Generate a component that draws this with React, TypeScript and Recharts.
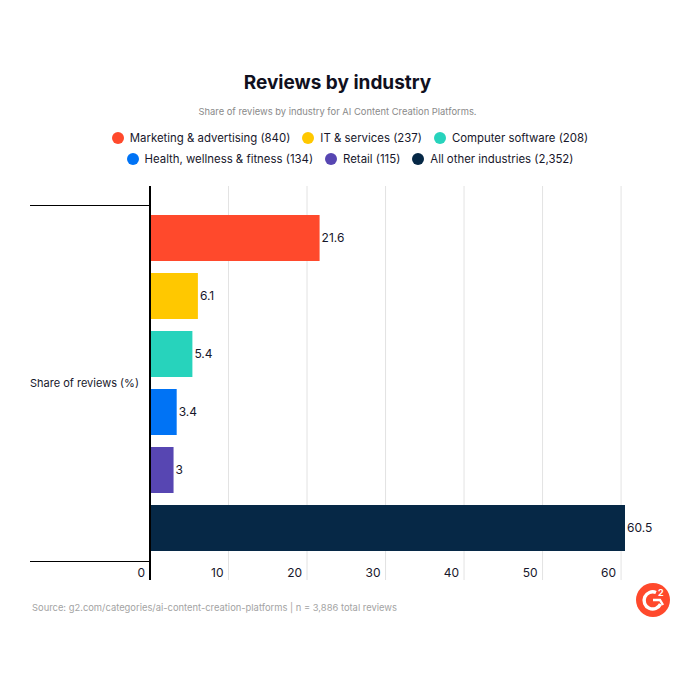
import React from "react";
import { BarChart, Bar, Cell, CartesianGrid, LabelList, Legend, XAxis, YAxis } from "recharts";

const industries = ["Marketing & advertising", "IT & services", "Computer software", "Health, wellness & fitness", "Retail", "All other industries"];
const shares = [21.6, 6.1, 5.4, 3.4, 3, 60.5];
const reviewCounts = ["840", "237", "208", "134", "115", "2,352"];
const colors = ["#ff492c", "#ffc800", "#27d3bc", "#0073f5", "#5746b2", "#062846"];
const xTicks = [0, 10, 20, 30, 40, 50, 60];
const groupLabel = "Share of reviews (%)";
const legendRows = [[0, 1, 2], [3, 4, 5]];

const data = industries.map((industry, i) => ({ industry, share: shares[i] }));
const sans = "Inter, 'Noto Sans', sans-serif";

const LegendContent = () => (
  <div style={{ fontFamily: sans, fontSize: 11.4, color: "#17172b" }}>
    {legendRows.map((row, r) => (
      <div key={r} style={{ display: "flex", justifyContent: "center", height: 21, alignItems: "center", gap: 12 }}>
        {row.map((i) => (
          <span key={i} style={{ display: "flex", alignItems: "center", gap: 6, whiteSpace: "nowrap" }}>
            <span style={{ width: 12, height: 12, borderRadius: 6, background: colors[i], display: "inline-block" }} />
            {industries[i]} ({reviewCounts[i]})
          </span>
        ))}
      </div>
    ))}
  </div>
);

const XTick = (props: any) => (
  <text x={props.x - 5} y={props.y - 3} textAnchor="end" fontFamily={sans} fontSize={12} fill="#17172b">
    {props.payload.value}
  </text>
);

const GroupLabel = (props: any) => {
  const { x, y, width, height } = props.viewBox;
  return (
    <g>
      <line x1={x} x2={x + width} y1={y + 19.5} y2={y + 19.5} stroke="#000" strokeWidth={1} />
      <line x1={x} x2={x + width} y1={y + height - 18.5} y2={y + height - 18.5} stroke="#000" strokeWidth={1} />
      <text x={x} y={y + height / 2} dy={4} fontFamily={sans} fontSize={11} fill="#17172b">{groupLabel}</text>
    </g>
  );
};

export default function App() {
  return (
    <div style={{ position: "absolute", left: 0, top: 0, width: 700, height: 700, background: "#fff", overflow: "hidden" }}>
      <div style={{ position: "absolute", top: 70, left: 0, width: 675, textAlign: "center", fontFamily: sans, fontWeight: 700, fontSize: 19, lineHeight: "26px", color: "#10101e" }}>
        Reviews by industry
      </div>
      <div style={{ position: "absolute", top: 105, left: 0, width: 675, textAlign: "center", fontFamily: sans, fontSize: 9.4, lineHeight: "14px", color: "#8a8a8a" }}>
        Share of reviews by industry for AI Content Creation Platforms.
      </div>
      <BarChart
        width={700}
        height={700}
        layout="vertical"
        data={data}
        margin={{ top: 144, right: 75, bottom: 119, left: 30 }}
        barCategoryGap={6}
      >
        <CartesianGrid horizontal={false} stroke="#e3e3e3" verticalValues={xTicks} />
        <XAxis type="number" domain={[0, 60.5]} ticks={xTicks} interval={0} height={1} tickSize={0} tickMargin={0} axisLine={false} tickLine={false} tick={<XTick />} />
        <YAxis yAxisId="cat" type="category" dataKey="industry" hide width={0} padding={{ top: 23, bottom: 23 }} />
        <YAxis
          yAxisId="group"
          type="number"
          width={120}
          tick={false}
          tickLine={false}
          axisLine={{ stroke: "#000", strokeWidth: 2 }}
          label={<GroupLabel />}
        />
        <Legend verticalAlign="top" content={<LegendContent />} wrapperStyle={{ position: "absolute", top: 127, left: 0, width: 700, height: 42 }} height={0} />
        <Bar yAxisId="cat" dataKey="share" barSize={46} isAnimationActive={false}>
          {data.map((d, i) => (
            <Cell key={d.industry} fill={colors[i]} />
          ))}
          <LabelList dataKey="share" position="right" offset={2} fontFamily={sans} fontSize={12} fill="#17172b" />
        </Bar>
      </BarChart>
      <div style={{ position: "absolute", top: 601, left: 32, fontFamily: sans, fontSize: 9.4, lineHeight: "14px", color: "#a3a3a3" }}>
        Source: g2.com/categories/ai-content-creation-platforms | n = 3,886 total reviews
      </div>
      <svg style={{ position: "absolute", left: 636, top: 583 }} width={34} height={34} viewBox="0 0 34 34">
        <circle cx={17} cy={17} r={17} fill="#ff492c" />
        <path d="M20 9.5 A8.6 8.6 0 1 0 24.5 21" fill="none" stroke="#fff" strokeWidth={3.4} />
        <path d="M17 17 H24 L27 22" fill="none" stroke="#fff" strokeWidth={2.4} />
        <text x={22} y={13} fontFamily={sans} fontSize={9} fontWeight={700} fill="#fff">2</text>
      </svg>
    </div>
  );
}
